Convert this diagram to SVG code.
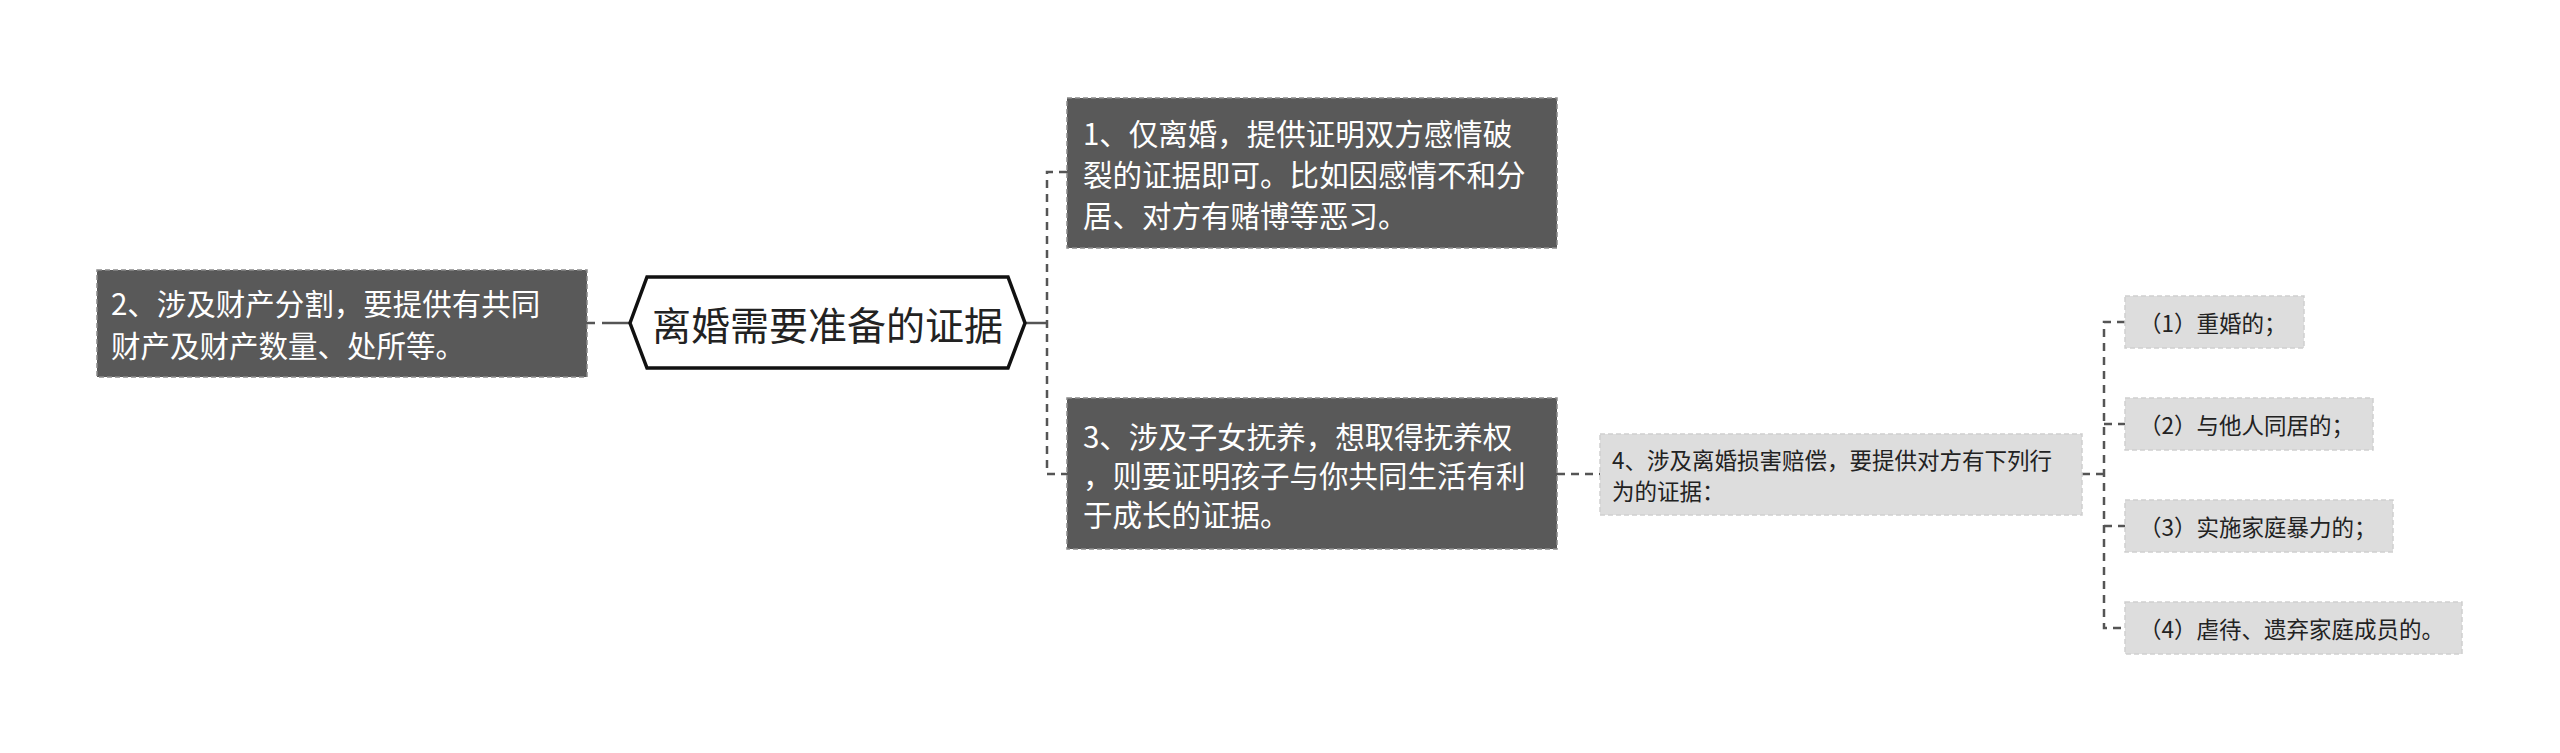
<svg xmlns="http://www.w3.org/2000/svg" width="2560" height="753" viewBox="0 0 2560 753">
<style>
text{font-family:"Noto Sans CJK SC","Noto Sans",sans-serif;dominant-baseline:central}
.dark{fill:#595959;stroke:#8a8a8a;stroke-width:1.5;stroke-dasharray:5 3}
.light{fill:#dddddd;stroke:#cfcfcf;stroke-width:1.5;stroke-dasharray:5 3}
.wt{fill:#ffffff;font-size:29.5px}
.bt{fill:#222222;font-size:22.5px}
.conn{fill:none;stroke:#555555;stroke-width:2.5;stroke-dasharray:8 6}
.solid{fill:none;stroke:#555555;stroke-width:2.5}
</style>
<rect width="2560" height="753" fill="#ffffff"/>
<g id="connectors">
<path class="solid" d="M630,323 H602"/>
<path class="solid" d="M595,323 H587"/>
<path class="solid" d="M1025,323 H1047"/>
<path class="conn" d="M1067,172 H1047 V474 H1067"/>
<path class="conn" d="M1557,474 H1600"/>
<path class="conn" d="M2082,474 H2104"/>
<path class="conn" d="M2125,322 H2104 V628 H2125"/>
<path class="conn" d="M2104,424 H2125"/>
<path class="conn" d="M2104,526 H2125"/>
</g>
<g id="root">
<polygon points="630,323 647,277 1008,277 1025,323 1008,368 647,368" fill="#ffffff" stroke="#111111" stroke-width="3.5"/>
<text x="827.5" y="323" text-anchor="middle" font-size="39" fill="#222222">离婚需要准备的证据</text>
</g>
<g id="node-2">
<rect class="dark" x="97" y="270" width="490" height="107"/>
<text class="wt" x="111" y="302">2、涉及财产分割，要提供有共同</text>
<text class="wt" x="111" y="344">财产及财产数量、处所等。</text>
</g>
<g id="node-1">
<rect class="dark" x="1067" y="98" width="490" height="150"/>
<text class="wt" x="1083" y="132">1、仅离婚，提供证明双方感情破</text>
<text class="wt" x="1083" y="173">裂的证据即可。比如因感情不和分</text>
<text class="wt" x="1083" y="214">居、对方有赌博等恶习。</text>
</g>
<g id="node-3">
<rect class="dark" x="1067" y="398" width="490" height="151"/>
<text class="wt" x="1083" y="435">3、涉及子女抚养，想取得抚养权</text>
<text class="wt" x="1083" y="474">，则要证明孩子与你共同生活有利</text>
<text class="wt" x="1083" y="513">于成长的证据。</text>
</g>
<g id="node-4">
<rect class="light" x="1600" y="434" width="482" height="81"/>
<text class="bt" x="1612" y="459">4、涉及离婚损害赔偿，要提供对方有下列行</text>
<text class="bt" x="1612" y="490">为的证据：</text>
</g>
<g id="item-1">
<rect class="light" x="2125" y="296" width="179" height="52"/>
<text class="bt" x="2139" y="322">（1）重婚的；</text>
</g>
<g id="item-2">
<rect class="light" x="2125" y="398" width="248" height="52"/>
<text class="bt" x="2139" y="424">（2）与他人同居的；</text>
</g>
<g id="item-3">
<rect class="light" x="2125" y="500" width="268" height="52"/>
<text class="bt" x="2139" y="526">（3）实施家庭暴力的；</text>
</g>
<g id="item-4">
<rect class="light" x="2125" y="602" width="337" height="52"/>
<text class="bt" x="2139" y="628">（4）虐待、遗弃家庭成员的。</text>
</g>
</svg>
